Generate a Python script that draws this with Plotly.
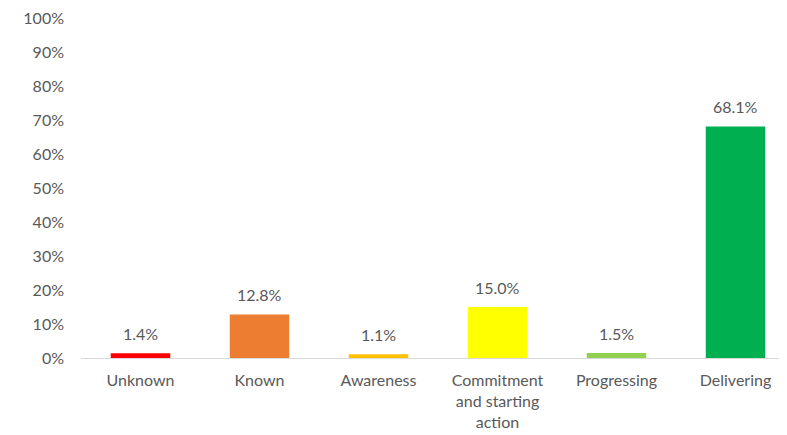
import plotly.graph_objects as go

categories = ["Unknown", "Known", "Awareness", "Commitment<br>and starting<br>action", "Progressing", "Delivering"]
values = [1.4, 12.8, 1.1, 15.0, 1.5, 68.1]
colors = ["#FF0000", "#ED7D31", "#FFC000", "#FFFF00", "#92D050", "#00B050"]
yticks = list(range(0, 101, 10))
ytick_labels = [f"{v}%" for v in yticks]
value_labels = [f"{v:.1f}%" for v in values]

FONT = "Lato"
GREY = "#595959"
FS = 16

fig = go.Figure(
    go.Bar(
        x=categories,
        y=values,
        marker=dict(color=colors, line=dict(width=0)),
        width=0.5,
        hoverinfo="x+y",
    )
)

for c, v, t in zip(categories, values, value_labels):
    fig.add_annotation(
        x=c, y=v, text=t, showarrow=False,
        xref="x", yref="y",
        yanchor="bottom", yshift=8,
        font=dict(family=FONT, size=FS, color=GREY),
    )

fig.update_layout(
    width=787,
    height=435,
    margin=dict(l=73, r=0, t=10, b=85),
    paper_bgcolor="white",
    plot_bgcolor="white",
    showlegend=False,
    font=dict(family=FONT, size=FS, color=GREY),
    xaxis=dict(
        range=[-0.5, 5.5],
        showgrid=False,
        showline=True,
        linecolor="#D9D9D9",
        linewidth=1,
        ticks="",
        ticklabelstandoff=8,
        tickfont=dict(family=FONT, size=FS, color=GREY),
        zeroline=False,
    ),
    yaxis=dict(
        range=[0, 100],
        tickvals=yticks,
        ticktext=ytick_labels,
        showgrid=False,
        showline=False,
        zeroline=False,
        ticks="",
        ticklabelstandoff=16,
        ticklabeloverflow="allow",
        tickfont=dict(family=FONT, size=FS, color=GREY),
    ),
)

fig.write_html("out.html")
